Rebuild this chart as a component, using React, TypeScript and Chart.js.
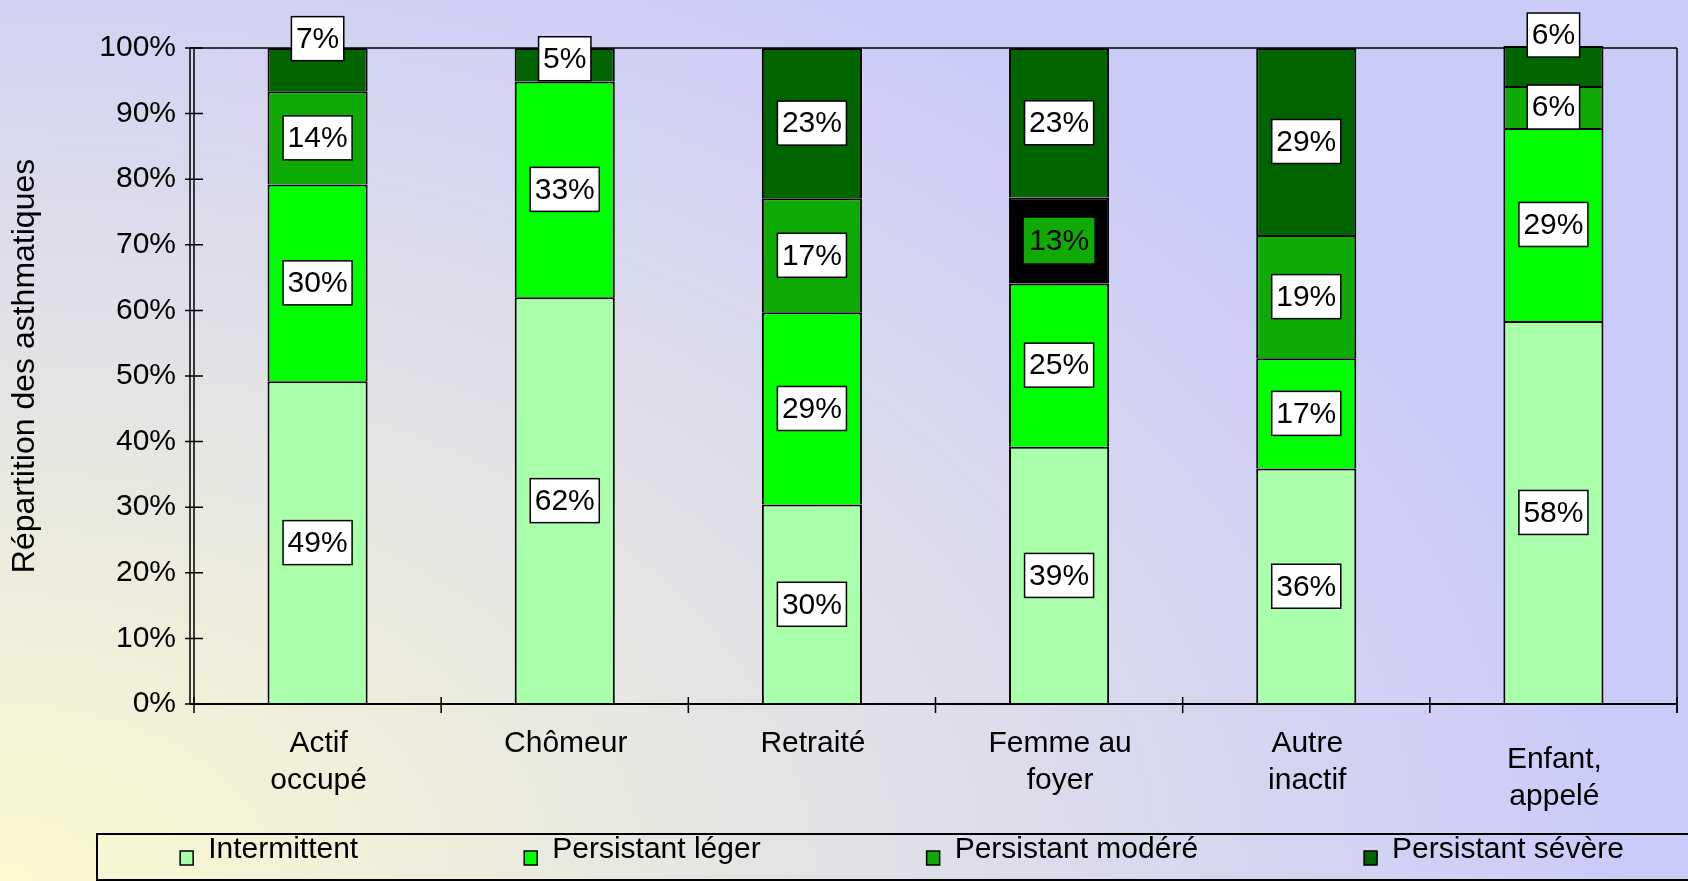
import React, { useEffect, useRef } from "react";
import { Chart, registerables } from "chart.js";

Chart.register(...registerables);

// ---------- data ----------
const categories: string[][] = [
  ["Actif", "occupé"],
  ["Chômeur"],
  ["Retraité"],
  ["Femme au", "foyer"],
  ["Autre", "inactif"],
  ["Enfant,", "appelé"],
];
const seriesNames = ["Intermittent", "Persistant léger", "Persistant modéré", "Persistant sévère"];
const intermittent = [49.2, 62.0, 30.4, 39.2, 35.9, 58.4];
const persistantLeger = [30.0, 32.9, 29.3, 24.9, 16.8, 29.4];
const persistantModere = [14.2, 0, 17.4, 13.1, 18.8, 6.4];
const persistantSevere = [6.6, 5.1, 22.9, 22.8, 28.5, 6.1];
const yTickValues = [0, 10, 20, 30, 40, 50, 60, 70, 80, 90, 100];
const yTitle = "Répartition des asthmatiques";

// ---------- style ----------
const FONT = '"Liberation Sans", Arial, Helvetica, sans-serif';
const seriesColors = ["#aaffaa", "#00ff00", "#10aa05", "#006400"];
const blackSegment = { category: 3, series: 2 }; // segment drawn in black in the original
const labelLift: Record<string, number> = { "0:3": 31, "1:3": 6, "5:3": 31 };
const categoryLabelDrop: Record<number, number> = { 5: 16 };

const W = 1688;
const H = 881;

const decorPlugin = {
  id: "decor",
  beforeDatasetsDraw(chart: any) {
    const { ctx, chartArea } = chart;
    ctx.save();
    ctx.strokeStyle = "#000";
    ctx.lineWidth = 1.5;
    ctx.beginPath();
    ctx.moveTo(chartArea.left - 4, chartArea.top);
    ctx.lineTo(chartArea.right, chartArea.top);
    ctx.stroke();
    ctx.restore();
  },
  afterDatasetsDraw(chart: any) {
    const { ctx, chartArea } = chart;
    const x = chart.scales.x;
    const y = chart.scales.y;
    ctx.save();
    ctx.strokeStyle = "#000";
    // y axis (double line)
    ctx.lineWidth = 1.5;
    ctx.beginPath();
    ctx.moveTo(chartArea.left - 4, chartArea.top);
    ctx.lineTo(chartArea.left - 4, chartArea.bottom);
    ctx.moveTo(chartArea.left, chartArea.top);
    ctx.lineTo(chartArea.left, chartArea.bottom);
    // right frame
    ctx.moveTo(chartArea.right, chartArea.top);
    ctx.lineTo(chartArea.right, chartArea.bottom + 9);
    ctx.stroke();
    // y ticks crossing
    ctx.beginPath();
    yTickValues.forEach((v) => {
      const py = y.getPixelForValue(v);
      ctx.moveTo(chartArea.left - 9, py);
      ctx.lineTo(chartArea.left + 9, py);
    });
    ctx.stroke();
    // x axis
    ctx.lineWidth = 2;
    ctx.beginPath();
    ctx.moveTo(chartArea.left - 4, chartArea.bottom);
    ctx.lineTo(chartArea.right, chartArea.bottom);
    ctx.stroke();
    // x ticks at category boundaries
    ctx.lineWidth = 1.5;
    const n = categories.length;
    const cw = (chartArea.right - chartArea.left) / n;
    ctx.beginPath();
    for (let i = 0; i <= n; i++) {
      const px = x.getPixelForValue(0) - cw / 2 + i * cw;
      ctx.moveTo(px, chartArea.bottom - 7);
      ctx.lineTo(px, chartArea.bottom + 9);
    }
    ctx.stroke();

    // y axis title
    ctx.save();
    ctx.font = `32px ${FONT}`;
    ctx.fillStyle = "#000";
    ctx.textAlign = "center";
    ctx.textBaseline = "middle";
    ctx.translate(25, (chartArea.top + chartArea.bottom) / 2 - 10);
    ctx.rotate(-Math.PI / 2);
    ctx.fillText(yTitle, 0, 0);
    ctx.restore();

    // category labels
    ctx.font = `30px ${FONT}`;
    ctx.fillStyle = "#000";
    ctx.textAlign = "center";
    ctx.textBaseline = "alphabetic";
    categories.forEach((lines, i) => {
      const px = x.getPixelForValue(i);
      const drop = categoryLabelDrop[i] || 0;
      lines.forEach((ln, k) => {
        ctx.fillText(ln, px + 1, chartArea.bottom + 48 + drop + k * 37);
      });
    });

    // data labels
    ctx.textBaseline = "middle";
    chart.data.datasets.forEach((ds: any, di: number) => {
      const meta = chart.getDatasetMeta(di);
      meta.data.forEach((el: any, i: number) => {
        const v = ds.data[i] as number;
        if (!v) return;
        const txt = Math.round(v) + "%";
        const cx = el.x;
        const cy = (el.y + el.base) / 2 - (labelLift[`${i}:${di}`] || 0);
        const w = ctx.measureText(txt).width + 9;
        const h = 44;
        const isBlack = i === blackSegment.category && di === blackSegment.series;
        ctx.fillStyle = isBlack ? seriesColors[di] : "#ffffff";
        ctx.fillRect(cx - w / 2, cy - h / 2, w, h);
        ctx.lineWidth = 1.5;
        ctx.strokeStyle = isBlack ? seriesColors[di] : "#000";
        ctx.strokeRect(cx - w / 2, cy - h / 2, w, h);
        ctx.fillStyle = "#000";
        ctx.fillText(txt, cx, cy + 1);
      });
    });
    ctx.restore();
  },
  afterDraw(chart: any) {
    const { ctx } = chart;
    ctx.save();
    // legend box
    ctx.strokeStyle = "#000";
    ctx.lineWidth = 2;
    ctx.strokeRect(97, 834, W - 97 + 20, 46);
    ctx.font = `30px ${FONT}`;
    const gap = 166;
    const marker = 13;
    const textOff = 28;
    const widths = seriesNames.map((s) => textOff + ctx.measureText(s).width);
    const total = widths.reduce((a, b) => a + b, 0) + gap * (seriesNames.length - 1);
    let sx = 902 - total / 2;
    ctx.textAlign = "left";
    ctx.textBaseline = "alphabetic";
    seriesNames.forEach((s, i) => {
      ctx.fillStyle = seriesColors[i];
      ctx.fillRect(sx, 851, marker, 14);
      ctx.lineWidth = 1.5;
      ctx.strokeStyle = "#000";
      ctx.strokeRect(sx, 851, marker, 14);
      ctx.fillStyle = "#000";
      ctx.fillText(s, sx + textOff, 858);
      sx += widths[i] + gap;
    });
    ctx.restore();
  },
};

export default function App() {
  const ref = useRef<HTMLCanvasElement | null>(null);
  useEffect(() => {
    if (!ref.current) return;
    const seriesData = [intermittent, persistantLeger, persistantModere, persistantSevere];
    const chart = new Chart(ref.current, {
      type: "bar",
      data: {
        labels: categories.map((c) => c.join(" ")),
        datasets: seriesData.map((d, di) => ({
          label: seriesNames[di],
          data: d,
          backgroundColor: categories.map((_, i) =>
            i === blackSegment.category && di === blackSegment.series ? "#000000" : seriesColors[di]
          ),
          borderColor: "#000",
          borderWidth: 2,
          borderSkipped: "start",
          categoryPercentage: 0.405,
          barPercentage: 1,
          clip: false as any,
        })),
      },
      options: {
        animation: false,
        responsive: true,
        maintainAspectRatio: false,
        layout: { padding: { left: 0, right: 11, top: 48, bottom: 0 } },
        plugins: {
          legend: { display: false },
          tooltip: { enabled: false },
        },
        scales: {
          x: {
            stacked: true,
            offset: true,
            grid: { display: false, drawTicks: false },
            border: { display: false },
            ticks: { display: false },
            afterFit: (s: any) => {
              s.height = 177;
            },
          },
          y: {
            stacked: true,
            min: 0,
            max: 100,
            grid: { display: false, drawTicks: false },
            border: { display: false },
            afterBuildTicks: (s: any) => {
              s.ticks = yTickValues.map((v) => ({ value: v }));
            },
            ticks: {
              padding: 18,
              color: "#000",
              font: { size: 30, family: FONT },
              callback: (v: any) => v + "%",
            },
            afterFit: (s: any) => {
              s.width = 194;
            },
          },
        },
      },
      plugins: [decorPlugin],
    });
    return () => chart.destroy();
  }, []);

  return (
    <div
      style={{
        position: "absolute",
        left: 0,
        top: 0,
        width: W,
        height: H,
        overflow: "hidden",
        background:
          "radial-gradient(ellipse 1625px 1036px at 0px 881px, #fbfad0 0%, #cbcbfa 100%)",
      }}
    >
      <canvas ref={ref} />
    </div>
  );
}
